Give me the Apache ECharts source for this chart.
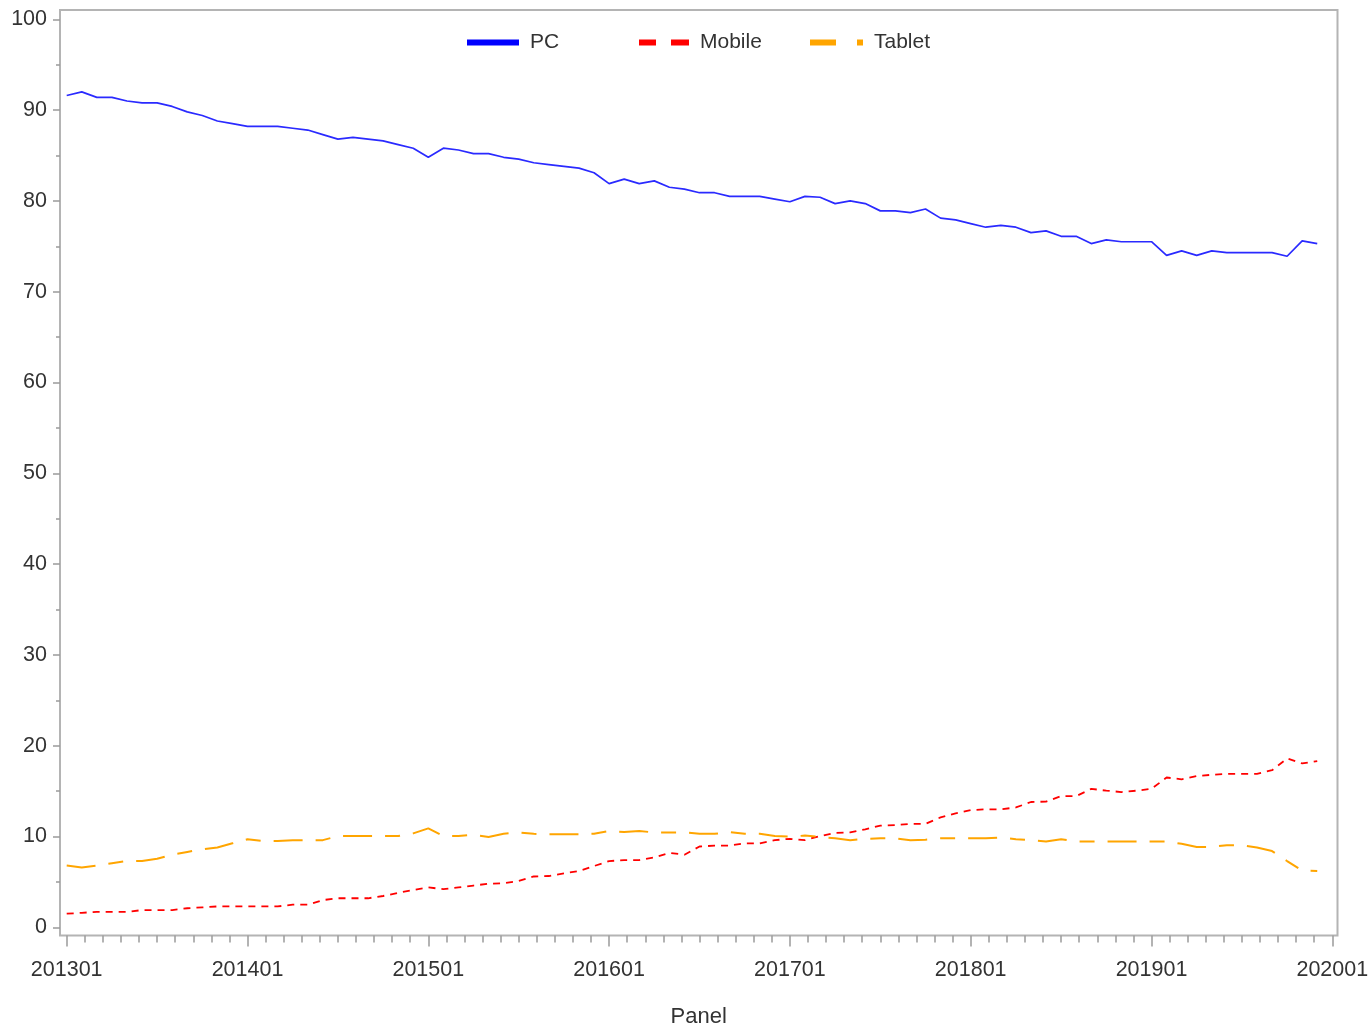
<!DOCTYPE html>
<html>
<head>
<meta charset="utf-8">
<script src="https://cdn.jsdelivr.net/npm/echarts@6/dist/echarts.min.js"></script>
<style>
html,body{margin:0;padding:0;background:#fff;}
#chart{width:1370px;height:1028px;}
</style>
</head>
<body>
<div id="chart"></div>
<script>
// Months 201301 .. 201912 (x index 0..83); 202001 = 84
const months = [];
for (let y = 2013; y <= 2020; y++) for (let m = 1; m <= 12; m++) months.push(String(y) + (m < 10 ? '0' : '') + m);

const pc = [
  91.6, 92.0, 91.4, 91.4, 91.0, 90.8, 90.8, 90.4, 89.8, 89.4, 88.8, 88.5,
  88.2, 88.2, 88.2, 88.0, 87.8, 87.3, 86.8, 87.0, 86.8, 86.6, 86.2, 85.8,
  84.8, 85.8, 85.6, 85.2, 85.2, 84.8, 84.6, 84.2, 84.0, 83.8, 83.6, 83.1,
  81.9, 82.4, 81.9, 82.2, 81.5, 81.3, 80.9, 80.9, 80.5, 80.5, 80.5, 80.2,
  79.9, 80.5, 80.4, 79.7, 80.0, 79.7, 78.9, 78.9, 78.7, 79.1, 78.1, 77.9,
  77.5, 77.1, 77.3, 77.1, 76.5, 76.7, 76.1, 76.1, 75.3, 75.7, 75.5, 75.5,
  75.5, 74.0, 74.5, 74.0, 74.5, 74.3, 74.3, 74.3, 74.3, 73.9, 75.6, 75.3
];
const mobile = [
  1.5, 1.6, 1.7, 1.7, 1.7, 1.9, 1.9, 1.9, 2.1, 2.2, 2.3, 2.3,
  2.3, 2.3, 2.3, 2.5, 2.5, 3.0, 3.2, 3.2, 3.2, 3.45, 3.8, 4.1,
  4.4, 4.2, 4.4, 4.6, 4.8, 4.85, 5.1, 5.6, 5.65, 5.95, 6.2, 6.75,
  7.3, 7.4, 7.4, 7.7, 8.2, 8.0, 8.9, 9.0, 9.0, 9.25, 9.25, 9.6,
  9.75, 9.6, 10.05, 10.4, 10.45, 10.8, 11.2, 11.25, 11.4, 11.4, 12.1, 12.55,
  12.9, 13.0, 13.0, 13.2, 13.8, 13.85, 14.45, 14.45, 15.25, 15.05, 14.9, 15.05,
  15.25, 16.5, 16.3, 16.65, 16.8, 16.9, 16.9, 16.9, 17.3, 18.6, 18.05, 18.3
];
const tablet = [
  6.8, 6.6, 6.8, 7.05, 7.3, 7.3, 7.55, 8.0, 8.3, 8.6, 8.8, 9.25,
  9.7, 9.5, 9.5, 9.6, 9.6, 9.6, 10.05, 10.05, 10.05, 10.05, 10.05, 10.35,
  10.9, 10.05, 10.05, 10.2, 9.95, 10.3, 10.45, 10.3, 10.25, 10.25, 10.25, 10.3,
  10.6, 10.5, 10.6, 10.45, 10.45, 10.45, 10.3, 10.3, 10.5, 10.3, 10.3, 10.05,
  10.0, 10.1, 9.95, 9.8, 9.6, 9.75, 9.8, 9.8, 9.6, 9.65, 9.8, 9.8,
  9.8, 9.8, 9.9, 9.7, 9.6, 9.45, 9.7, 9.45, 9.45, 9.45, 9.45, 9.45,
  9.45, 9.45, 9.2, 8.85, 8.85, 9.05, 9.05, 8.8, 8.4, 7.3, 6.25, 6.2
];
const seriesNames = ['PC', 'Mobile', 'Tablet'];
const yTicks = [0, 10, 20, 30, 40, 50, 60, 70, 80, 90, 100];
const yMinorTicks = [5, 15, 25, 35, 45, 55, 65, 75, 85, 95];
const xTicks = [0, 12, 24, 36, 48, 60, 72, 84];           // 201301 ... 202001
const xMinorTicks = [];
for (let k = 0; k <= 70; k++) if (k % 10 !== 0) xMinorTicks.push(k * 1.2);

const toXY = arr => arr.map((v, i) => [i, v]);
const FONT = '"Liberation Sans", Arial, sans-serif';
const AX = '#9a9a9a';
const TXT = '#333333';

const chart = echarts.init(document.getElementById('chart'), null, {renderer: 'canvas'});
const legendBase = (name, left, icon, w) => ({
  data: [{name: name, icon: icon}],
  top: 32, left: left,
  itemWidth: w, itemHeight: 6, itemGap: 0,
  padding: 0,
  itemStyle: {borderWidth: 0},
  lineStyle: {width: 0},
  textStyle: {fontFamily: FONT, fontSize: 21, color: TXT, padding: [0, 0, 0, 6]}
});

const X_MIN = -0.445, X_MAX = 84.345, Y_MIN = -0.9, Y_MAX = 101.02;

chart.setOption({
  animation: false,
  backgroundColor: '#ffffff',
  legend: [
    legendBase('PC', 467, 'rect', 52),
    legendBase('Mobile', 639, 'path://M0,0H17V6H0Z M32,0H50V6H32Z', 50),
    legendBase('Tablet', 810, 'path://M0,0H26V6H0Z M47,0H53V6H47Z', 53)
  ],
  grid: [
    {left: 60, right: 32.5, top: 10, bottom: 92.5, containLabel: false, outerBoundsMode: 'none',
      show: true, borderColor: '#b4b4b4', borderWidth: 2, backgroundColor: 'transparent'}
  ],
  xAxis: [{
    type: 'value', min: X_MIN, max: X_MAX, position: 'bottom',
    axisLine: {show: false, onZero: false},
    axisTick: {show: true, inside: false, length: 11, customValues: xTicks, lineStyle: {color: AX, width: 1.5}},
    splitLine: {show: false},
    axisLabel: {margin: 24, fontFamily: FONT, fontSize: 21.5, color: TXT, customValues: xTicks,
      formatter: v => months[Math.round(v)]},
    name: 'Panel', nameLocation: 'middle', nameGap: 70,
    nameTextStyle: {fontFamily: FONT, fontSize: 22, color: TXT}
  }, {
    type: 'value', min: X_MIN, max: X_MAX, position: 'bottom',
    axisLine: {show: false, onZero: false},
    axisTick: {show: true, inside: false, length: 7, customValues: xMinorTicks, lineStyle: {color: AX, width: 1.5}},
    splitLine: {show: false},
    axisLabel: {show: false}
  }],
  yAxis: [{
    type: 'value', min: Y_MIN, max: Y_MAX, position: 'left',
    axisLine: {show: false, onZero: false},
    axisTick: {show: true, inside: false, length: 7, customValues: yTicks, lineStyle: {color: AX, width: 1.5}},
    splitLine: {show: false},
    axisLabel: {margin: 13, fontFamily: FONT, fontSize: 21.5, color: TXT, customValues: yTicks,
      formatter: v => String(Math.round(v))}
  }, {
    type: 'value', min: Y_MIN, max: Y_MAX, position: 'left',
    axisLine: {show: false, onZero: false},
    axisTick: {show: true, inside: false, length: 4, customValues: yMinorTicks, lineStyle: {color: AX, width: 1.5}},
    splitLine: {show: false},
    axisLabel: {show: false}
  }],
  series: [
    {name: 'PC', type: 'line', data: toXY(pc), showSymbol: false, symbol: 'none',
      color: '#0000ff', lineStyle: {color: '#2a2aff', width: 1.7, type: 'solid'}},
    {name: 'Mobile', type: 'line', data: toXY(mobile), showSymbol: false, symbol: 'none',
      color: '#ff0000', lineStyle: {color: '#ff0000', width: 1.8, type: [7, 6]}},
    {name: 'Tablet', type: 'line', data: toXY(tablet), showSymbol: false, symbol: 'none',
      color: '#ffa500', lineStyle: {color: '#ffa500', width: 2, type: [29, 13, 15, 13]}}
  ]
});
</script>
</body>
</html>
